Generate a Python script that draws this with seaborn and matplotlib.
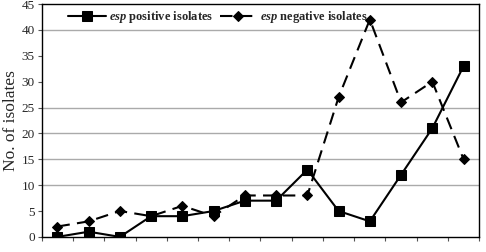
import numpy as np
import pandas as pd
import matplotlib
matplotlib.use('Agg')
import matplotlib.pyplot as plt
import seaborn as sns

# 데이터
groups = list(range(1, 15))
esp_positive = [0, 1, 0, 4, 4, 5, 7, 7, 13, 5, 3, 12, 21, 33]
esp_negative = [2, 3, 5, 4, 6, 4, 8, 8, 8, 27, 42, 26, 30, 15]

df = pd.DataFrame({'group': groups, 'positive': esp_positive, 'negative': esp_negative})
df['pos'] = np.arange(len(groups))

sns.set_style('ticks')
plt.rcParams['font.family'] = ['Liberation Serif', 'DejaVu Serif']
plt.rcParams['mathtext.fontset'] = 'custom'
plt.rcParams['mathtext.it'] = 'Liberation Serif:italic:bold'
plt.rcParams['mathtext.rm'] = 'Liberation Serif:bold'

fig = plt.figure(figsize=(4.86, 2.52), dpi=100)
ax = fig.add_axes([0.086, 0.06, 0.9, 0.924])

sns.lineplot(data=df, x='pos', y='positive', ax=ax, color='black', lw=1.5,
             marker='s', markersize=6.5, markeredgecolor='black',
             label=r'$\mathit{esp}$ positive isolates')
sns.lineplot(data=df, x='pos', y='negative', ax=ax, color='black', lw=1.5,
             marker='D', markersize=5, markeredgecolor='black',
             dashes=(6, 3.5), label=r'$\mathit{esp}$ negative isolates')

ax.set_xlim(-0.5, len(groups) - 0.5)
ax.set_ylim(0, 45)
ax.set_yticks(range(0, 46, 5))
ax.set_xticks(np.arange(-0.5, len(groups), 1))
ax.set_xticklabels([])
ax.tick_params(axis='x', length=3, width=0.8, color='#555555')
ax.tick_params(axis='y', length=3, width=0.8, labelsize=9.5, color='#555555', pad=2)
ax.set_xlabel('')
ax.set_ylabel('No. of isolates', fontsize=12.5, labelpad=2)

# 격자선
for v in [10, 15, 20, 25, 40]:
    ax.axhline(v, color='#aaaaaa', lw=1, zorder=0)

for s in ax.spines.values():
    s.set_color('black')
    s.set_linewidth(1)

leg = ax.legend(loc='upper left', bbox_to_anchor=(0.035, 1.025), ncol=2, frameon=False,
                fontsize=9, handlelength=3.0, columnspacing=0.5, handletextpad=0.25)
for t in leg.get_texts():
    t.set_fontweight('bold')

fig.savefig('out.png', dpi=100)
